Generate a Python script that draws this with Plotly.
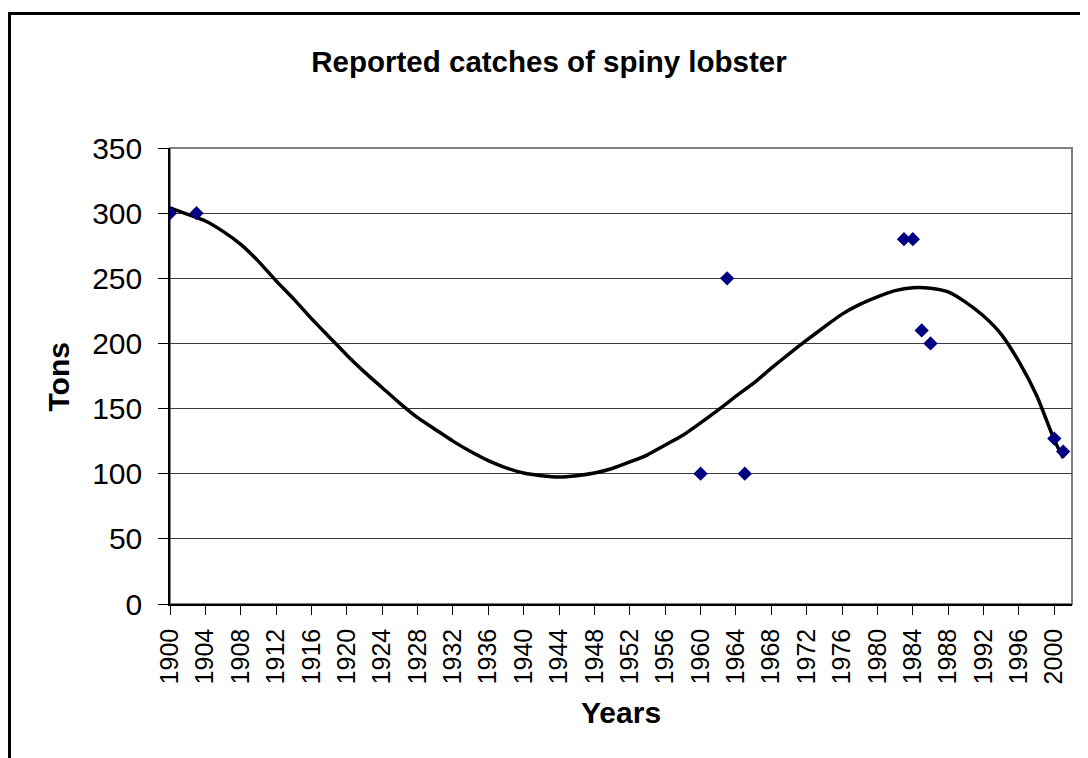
import plotly.graph_objects as go

# Reported catches (scatter points)
years = [1900, 1903, 1960, 1963, 1965, 1983, 1984, 1985, 1986, 2000, 2001]
catches = [300, 300, 100, 250, 100, 280, 280, 210, 200, 127, 117]

# Trendline values
trend_years = [1900, 1902, 1904, 1906, 1908, 1910, 1912, 1914, 1916, 1918, 1920,
               1922, 1924, 1926, 1928, 1930, 1932, 1934, 1936, 1938, 1940, 1942,
               1944, 1946, 1948, 1950, 1952, 1954, 1956, 1958, 1960, 1962, 1964,
               1966, 1968, 1970, 1972, 1974, 1976, 1978, 1980, 1982, 1984, 1986,
               1988, 1990, 1992, 1994, 1996, 1998, 2000, 2001]
trend_values = [304, 299, 294, 286, 276, 263, 248, 234, 219, 205, 191,
                178, 166, 154, 143, 134, 125, 117, 110, 104.5, 100.5, 98.5,
                97.5, 98.5, 100.5, 104, 109, 114.5, 122, 129.5, 139, 149, 159.5,
                169.5, 181, 192, 202.5, 212.7, 222.5, 230, 235.8, 240.5, 242.8, 242.4,
                239.5, 231.5, 221, 207, 186, 160, 126, 112]

y_ticks = [0, 50, 100, 150, 200, 250, 300, 350]
x_ticks = list(range(1900, 2001, 4))

title_text = "Reported catches of spiny lobster"
x_title = "Years"
y_title = "Tons"

FONT = "Arial, 'Liberation Sans', sans-serif"

fig = go.Figure()
fig.add_trace(go.Scatter(
    x=trend_years, y=trend_values, mode="lines",
    line=dict(color="black", width=3.5, shape="spline", smoothing=0.6),
    hoverinfo="skip", showlegend=False,
))
fig.add_trace(go.Scatter(
    x=years, y=catches, mode="markers",
    marker=dict(symbol="diamond", size=11, color="#000080",
                line=dict(width=0)),
    showlegend=False,
))

# page body has an 8px margin: work in reference pixels, shift by OFF
OFF = 8
W, H = 1088 - OFF, 758 - OFF
L, R, T, B = 170 - OFF, 1072 - OFF, 148 - OFF, 604 - OFF
pw, ph = R - L, B - T

def px(xp):
    return (xp - OFF - L) / pw

def py(yp):
    return (B - (yp - OFF)) / ph

fig.update_layout(
    width=W, height=H,
    margin=dict(l=L, r=W - R, t=T, b=H - B, pad=0),
    paper_bgcolor="white", plot_bgcolor="white",
    font=dict(family=FONT, color="black"),
    title=dict(text="<b>" + title_text + "</b>", x=(549 - OFF) / W, xref="container",
               xanchor="center", y=1 - (62 - OFF) / H, yref="container",
               yanchor="middle", font=dict(size=29.5, family=FONT, color="black")),
    xaxis=dict(
        range=[1900, 2002], tickmode="array", tickvals=x_ticks,
        ticktext=[str(v) for v in x_ticks], tickangle=-90,
        ticks="outside", ticklen=9, tickcolor="black", tickwidth=1,
        showline=True, linecolor="black", linewidth=1.5,
        showgrid=False, zeroline=False,
        tickfont=dict(size=25, family=FONT, color="black"),
        ticklabelstandoff=4,
    ),
    yaxis=dict(
        range=[0, 350], tickmode="array", tickvals=y_ticks,
        ticks="outside", ticklen=10, tickcolor="black", tickwidth=1,
        showline=True, linecolor="black", linewidth=1.5,
        showgrid=True, gridcolor="#3c3c3c", gridwidth=1, zeroline=False,
        tickfont=dict(size=30, family=FONT, color="black"),
        ticklabelstandoff=10,
    ),
    shapes=[
        dict(type="rect", xref="paper", yref="paper", x0=0, x1=1, y0=0, y1=1,
             line=dict(color="#808080", width=2), layer="below"),
        dict(type="rect", xref="paper", yref="paper",
             x0=px(9.5), x1=px(1100), y0=py(780), y1=py(13.5),
             line=dict(color="black", width=3), layer="above"),
    ],
    annotations=[
        dict(text="<b>" + x_title + "</b>", xref="paper", yref="paper",
             x=0.5, y=py(712), xanchor="center", yanchor="middle",
             showarrow=False, font=dict(size=30, family=FONT, color="black")),
        dict(text="<b>" + y_title + "</b>", xref="paper", yref="paper",
             x=px(57.5), y=py(377), xanchor="center", yanchor="middle",
             textangle=-90, showarrow=False,
             font=dict(size=30, family=FONT, color="black")),
    ],
)

fig.write_html("out.html")
